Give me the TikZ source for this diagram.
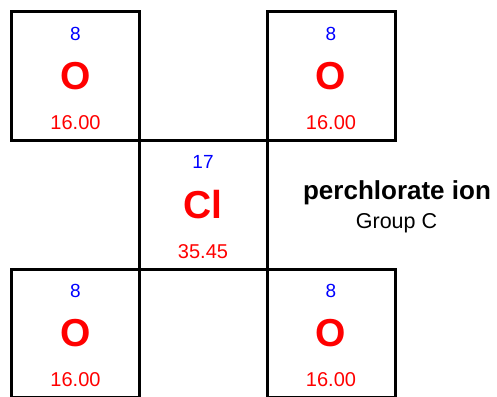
\documentclass[tikz,border=0pt]{standalone}
\usepackage{fontspec}
\setmainfont{Liberation Sans}
\definecolor{numblue}{RGB}{0,0,255}
\definecolor{symred}{RGB}{255,0,0}
\tikzset{
  cell/.style={draw=black, line width=3pt, minimum width=128pt, minimum height=128pt, inner sep=0pt},
  anum/.style={text=numblue, font=\fontsize{19}{19}\selectfont, inner sep=0pt},
  asym/.style={text=symred, font=\fontsize{39}{39}\selectfont\bfseries, inner sep=0pt},
  amass/.style={text=symred, font=\fontsize{20}{20}\selectfont, inner sep=0pt},
  title/.style={font=\fontsize{26}{26}\selectfont\bfseries, inner sep=0pt, anchor=base},
  sub/.style={font=\fontsize{21.5}{21.5}\selectfont, inner sep=0pt, anchor=base}
}
\begin{document}
\begin{tikzpicture}[x=1pt,y=-1pt]
\useasboundingbox (0,0) rectangle (497,396);
\clip (0,0) rectangle (497,396);
\node[cell] (tl) at (75.5,76) {};
\node[cell] (tr) at (331,76) {};
\node[cell, minimum height=129.5pt] (cl) at (203,204.75) {};
\node[cell] (bl) at (75.5,333.5) {};
\node[cell] (br) at (331,333.5) {};
\foreach \c in {tl,tr,bl,br}{
  \node[anum] (\c n) at ([yshift=42.5pt]\c.center) {8};
  \node[asym] (\c s) at (\c.center) {O};
  \node[amass] (\c m) at ([yshift=-46.5pt]\c.center) {16.00};
}
\node[anum] (cln) at ([yshift=42.5pt]cl.center) {17};
\node[asym] (cls) at (cl.center) {Cl};
\node[amass] (clm) at ([yshift=-47pt]cl.center) {35.45};
\node[title] (t1) at (397,199) {perchlorate ion};
\node[sub] (t2) at (396.5,228) {Group C};
\end{tikzpicture}
\end{document}
